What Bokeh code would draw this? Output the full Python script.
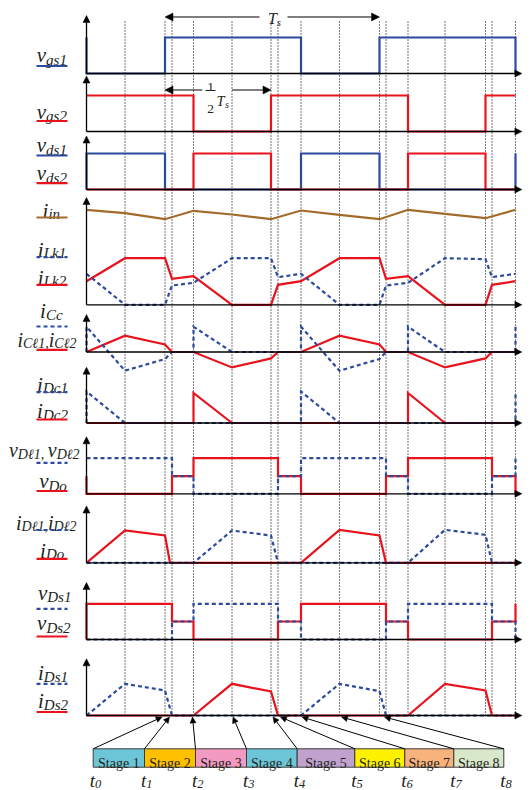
from bokeh.plotting import figure
from bokeh.models import Range1d, Arrow, NormalHead, ColumnDataSource
from bokeh.core.properties import value, field
from bokeh.embed import file_html
from bokeh.resources import INLINE

# ------------------------------------------------------------------ data
# switching instants (time axis units; one switching period Ts = 214.5)
t_marks = [38.5, 78.5, 85.5, 107, 145.5, 184.5, 191.5, 214.5,
           253, 293, 299.5, 321.5, 358.5, 399, 405.5, 429]
t_all = [0, 38.5, 78.5, 85.5, 107, 145.5, 184.5, 191.5, 214.5,
         253, 293, 299.5, 321.5, 358.5, 399, 405.5, 429]

vgs1_t = [0, 0, 78.5, 78.5, 214.5, 214.5, 293, 293, 429, 429]
vgs1_v = [36, 0, 0, 36, 36, 0, 0, 36, 36, 0]
vgs2_t = [0, 107, 107, 184.5, 184.5, 321.5, 321.5, 399, 399, 429]
vgs2_v = [36, 36, 0, 0, 36, 36, 0, 0, 36, 36]
vds1_t = [0, 0, 78.5, 78.5, 214.5, 214.5, 293, 293, 429, 429]
vds1_v = [0, 36, 36, 0, 0, 36, 36, 0, 0, 36]
vds2_t = [0, 107, 107, 184.5, 184.5, 321.5, 321.5, 399, 399, 429]
vds2_v = [0, 0, 36, 36, 0, 0, 36, 36, 0, 0]

iin_t = [0, 38.5, 78.5, 107, 145.5, 184.5, 214.5, 253, 293, 321.5, 358.5, 399, 429]
iin_v = [95, 91.6, 85.6, 94, 90.3, 85.6, 94.3, 90, 85.6, 95, 91, 86.6, 95]
iLk1_v = [31, 0, 0, 19.3, 22, 46.6, 46.6, 27.6, 31, 0, 0, 19.3, 22, 46.6, 45.6, 27.6, 31]
iLk2_v = [23.6, 46.6, 46.6, 26, 28.6, 0, 0, 20, 23.6, 46.6, 46.6, 26, 28.6, 0, 0, 20, 23.6]

iCl_v = [0, 16.3, 7.6, 0, 0, -15.4, -6.4, 0, 0, 16.3, 7.6, 0, 0, -15.4, -6.4, 0, 0]
iCc_t = [0, 0, 38.5, 78.5, 85.5, 107, 107, 145.5, 214.5, 214.5, 253, 293, 299.5,
         321.5, 321.5, 358.5, 429, 429]
iCc_v = [0, 25.3, -18.7, -7, 0, 0, 25.3, 0, 0, 25.3, -18.7, -7, 0, 0, 25.3, 0, 0, 25.3]

iDc1_t = [0, 0, 38.5, 214.5, 214.5, 253, 429, 429]
iDc1_v = [0, 31.5, 0, 0, 31.5, 0, 0, 31.5]
iDc2_t = [0, 107, 107, 145.5, 321.5, 321.5, 358.5, 429]
iDc2_v = [0, 0, 30, 0, 0, 30, 0, 0]

step_t = [0, 0, 85.5, 85.5, 107, 107, 191.5, 191.5, 214.5, 214.5, 299.5, 299.5,
          321.5, 321.5, 405.5, 405.5, 429, 429]
vDl_v = [35.6, 35.6, 35.6, 17.6, 17.6, 0, 0, 17.6, 17.6, 35.6, 35.6, 17.6,
         17.6, 0, 0, 17.6, 17.6, 35.6]
vDo_v = [17.6, 0, 0, 17.6, 17.6, 35.6, 35.6, 17.6, 17.6, 0, 0, 17.6,
         17.6, 35.6, 35.6, 17.6, 17.6, 0]

iDo_t = [0, 38.5, 78.5, 83.5, 214.5, 253, 293, 299.5, 429]
iDo_v = [0, 32.3, 27.3, 0, 0, 33, 27.3, 0, 0]
iDl_t = [0, 107, 145.5, 184.5, 191.5, 321.5, 358.5, 399, 405.5, 429]
iDl_v = [0, 0, 32.3, 27.3, 0, 0, 33, 28, 0, 0]

vDs1_v = [0, 0, 0, 18, 18, 35.7, 35.7, 18, 18, 0, 0, 18, 18, 35.7, 35.7, 18, 18, 0]
vDs2_v = [0, 35.7, 35.7, 18, 18, 0, 0, 18, 18, 35.7, 35.7, 18, 18, 0, 0, 18, 18, 35.7]

iDs1_t = [0, 38.5, 78.5, 85.5, 214.5, 253, 293, 299.5, 429]
iDs1_v = [0, 31.7, 25, 0, 0, 31.7, 24.3, 0, 0]
iDs2_t = [0, 107, 145.5, 184.5, 191.5, 321.5, 358.5, 399, 405.5, 429]
iDs2_v = [0, 0, 31.7, 24, 0, 0, 31.7, 25, 0, 0]

stage_names = ["Stage 1", "Stage 2", "Stage 3", "Stage 4",
               "Stage 5", "Stage 6", "Stage 7", "Stage 8"]
stage_colors = ["#6cc6d7", "#ffc000", "#f29ac1", "#6cc6d7",
                "#c1a2cf", "#fff200", "#f8b27c", "#d9e8cb"]
t_labels = ["0", "1", "2", "3", "4", "5", "6", "7", "8"]
stage_targets = [75.5, 83, 106, 146.5, 186.5, 194, 215.5, 255, 298]

# ------------------------------------------------------------------ style / layout
BLUE = "#2d4a9c"
RED = "#e8131d"
BROWN = "#a26b2c"
INK = "#231f20"
FONT = "Liberation Serif"
X0 = 86.0                     # page x of t0
LBL_SHIFT = -2.5


def px(page_x):
    return page_x - X0


BASE = [73, 131, 189, 304.3, 351.5, 422.5, 493.3, 562.3, 639, 715]
TOP = [15, 75.5, 135.5, 197, 314, 366.7, 436.3, 505.5, 582, 658.3]

p = figure(width=531, height=790, x_range=Range1d(-86, 445), y_range=Range1d(790, 0),
           output_backend="svg", toolbar_location=None, min_border=0,
           x_axis_location=None, y_axis_location=None)
p.grid.visible = False
p.outline_line_color = None

# dotted instants
p.segment(x0=t_marks, y0=[21] * len(t_marks), x1=t_marks, y1=[715] * len(t_marks),
          line_color="black", line_width=1.1, line_dash="1 2")

# axes
ax_src = ColumnDataSource(dict(x0=[0] * 10, y0=BASE, x1=[435.4] * 10, y1=BASE))
p.add_layout(Arrow(end=NormalHead(size=7, fill_color="black", line_color="black", line_width=0.5),
                   source=ax_src, x_start="x0", y_start="y0", x_end="x1", y_end="y1",
                   line_color="black", line_width=1.3))
ay_src = ColumnDataSource(dict(x0=[0] * 10, y0=BASE, x1=[0] * 10, y1=TOP))
p.add_layout(Arrow(end=NormalHead(size=7, fill_color="black", line_color="black", line_width=0.5),
                   source=ay_src, x_start="x0", y_start="y0", x_end="x1", y_end="y1",
                   line_color="black", line_width=1.3))


def wave(k, t, v, color, dashed=False, width=2.2):
    y = [BASE[k] - a for a in v]
    p.line(t, y, line_color=color, line_width=width,
           line_dash="4 3" if dashed else "solid", line_join="miter")


wave(0, vgs1_t, vgs1_v, BLUE)
wave(1, vgs2_t, vgs2_v, RED)
wave(2, vds1_t, vds1_v, BLUE)
wave(2, vds2_t, vds2_v, RED)
wave(3, iin_t, iin_v, BROWN)
wave(3, t_all, iLk2_v, RED)
wave(3, t_all, iLk1_v, BLUE, True)
wave(4, t_all, iCl_v, RED)
wave(4, iCc_t, iCc_v, BLUE, True)
wave(5, iDc2_t, iDc2_v, RED)
wave(5, iDc1_t, iDc1_v, BLUE, True)
wave(6, step_t, vDo_v, RED)
wave(6, step_t, vDl_v, BLUE, True)
wave(7, iDo_t, iDo_v, RED)
wave(7, iDl_t, iDl_v, BLUE, True)
wave(8, step_t, vDs2_v, RED)
wave(8, step_t, vDs1_v, BLUE, True)
wave(9, iDs2_t, iDs2_v, RED)
wave(9, iDs1_t, iDs1_v, BLUE, True)

# ------------------------------------------------------------------ texts
WID = {'v': 0.444, 'i': 0.278, 't': 0.278, 'T': 0.556, 'g': 0.5, 's': 0.389, 'd': 0.5,
       'n': 0.5, 'L': 0.556, 'k': 0.444, 'C': 0.667, 'c': 0.444, 'D': 0.722, 'o': 0.5,
       'ℓ': 0.42, ',': 0.25, ' ': 0.25}


def wid(s, fs):
    return sum(WID.get(c, 0.5) for c in s) * fs


ital = dict(x=[], y=[], text=[], fs=[])


def put(x, y, s, fs, store=ital):
    store['x'].append(px(x))
    store['y'].append(y)
    store['text'].append(s)
    store['fs'].append(f"{fs}px")


def rich(cx, yb, parts, drop, main=21, sub=15):
    sizes = {'m': main, 's': sub}
    total = sum(wid(t, sizes[r]) for t, r in parts)
    x = cx - total / 2
    for t, r in parts:
        put(x, yb + LBL_SHIFT + (drop if r == 's' else 0), t, sizes[r])
        x += wid(t, sizes[r])


def simple(cx, yb, a, b, drop):
    rich(cx, yb, [(a, 'm'), (b, 's')], drop)


simple(51.3, 57.3, "v", "gs1", 5)
simple(51.3, 113.5, "v", "gs2", 4.5)
simple(51.3, 147, "v", "ds1", 4.5)
simple(51.3, 175, "v", "ds2", 4.5)
simple(50.8, 213.3, "i", "in", 3)
simple(51.5, 251.7, "i", "Lk1", 3)
simple(51.5, 280, "i", "Lk2", 3)
simple(50.8, 313.3, "i", "Cc", 3.5)
rich(46.5, 341.7, [("i", 'm'), ("Cℓ1,", 's'), ("i", 'm'), ("Cℓ2", 's')], 3.5, 20, 14)
simple(52, 386.7, "i", "Dc1", 3.5)
simple(52, 413.3, "i", "Dc2", 3.5)
rich(43.8, 451.7, [("v", 'm'), ("Dℓ1, ", 's'), ("v", 'm'), ("Dℓ2", 's')], 4.5, 20, 14)
simple(52.5, 483.3, "v", "Do", 5)
rich(45.8, 525, [("i", 'm'), ("Dℓ1,", 's'), ("i", 'm'), ("Dℓ2", 's')], 3.5, 20, 14)
simple(51.7, 553.3, "i", "Do", 3)
simple(54.2, 595, "v", "Ds1", 4)
simple(53.3, 625, "v", "Ds2", 5)
simple(52.5, 675, "i", "Ds1", 3.5)
simple(52.5, 703.3, "i", "Ds2", 3.5)

# period annotations
put(267.5, 18.3, "T", 16)
put(276.5, 21.5, "s", 10)
put(216, 100.5, "T", 14.5)
put(224.5, 103.5, "s", 10)

# time instants below stage boxes
box_x = [92.7, 144, 195, 246, 296.7, 354.3, 404.3, 453.3, 503.3]
for bx, lab in zip(box_x, t_labels):
    put(bx - 3.5, 780, "t", 19)
    put(bx + 1.8, 783.5, lab, 12.5)

p.text(x="x", y="y", text="text", source=ColumnDataSource(ital), text_font=value(FONT),
       text_font_style="italic", text_font_size=field("fs"), text_color=INK,
       text_baseline="alphabetic", text_align="left")

# underlines of the legend
ul_y = [65.5, 120.5, 155, 182.7, 217, 256.7, 284.3, 326, 349.3, 391.7, 419,
        462.3, 490.5, 529.5, 558.3, 608.3, 636, 683.3, 711.5]
ul_c = [BLUE, RED, BLUE, RED, BROWN, BLUE, RED, BLUE, RED, BLUE, RED,
        BLUE, RED, BLUE, RED, BLUE, RED, BLUE, RED]
ul_d = [0, 0, 0, 0, 0, 1, 0, 1, 0, 1, 0, 1, 0, 1, 0, 1, 0, 1, 0]
for y, c, d in zip(ul_y, ul_c, ul_d):
    p.line([px(36), px(67)], [y, y], line_color=c, line_width=2.2,
           line_dash="4 3" if d else "solid")

# 1/2 Ts fraction
up = dict(x=[], y=[], text=[], fs=[])
put(210, 86.5, "1", 13.5, up)
put(210, 108, "2", 13.5, up)
p.segment(x0=[px(205)], y0=[90], x1=[px(215)], y1=[90], line_color=INK, line_width=1)

# arrows for the period spans
sp = ColumnDataSource(dict(x0=[px(259), px(287), px(201.7), px(231.7)],
                           y0=[16.5, 16.5, 89.5, 89.5],
                           x1=[78.5, 293, 78.5, 184.5],
                           y1=[16.5, 16.5, 89.5, 89.5]))
p.add_layout(Arrow(end=NormalHead(size=8, fill_color="black", line_color="black", line_width=0.5),
                   source=sp, x_start="x0", y_start="y0", x_end="x1", y_end="y1",
                   line_color="black", line_width=1.2))

# stage boxes
p.quad(left=[px(a) for a in box_x[:-1]], right=[px(a) for a in box_x[1:]],
       top=[748.3] * 8, bottom=[766.7] * 8, fill_color=stage_colors,
       line_color="#3a3a3a", line_width=1)
st = dict(x=[], y=[], text=[], fs=[])
for a, b, name in zip(box_x[:-1], box_x[1:], stage_names):
    put((a + b) / 2, 762.5, name, 14, st)
p.text(x="x", y="y", text="text", source=ColumnDataSource(st), text_font=value(FONT),
       text_font_size=field("fs"), text_color=INK, text_baseline="alphabetic",
       text_align="center")
p.text(x="x", y="y", text="text", source=ColumnDataSource(up), text_font=value(FONT),
       text_font_size=field("fs"), text_color=INK, text_baseline="alphabetic",
       text_align="center")

# stage pointer arrows
sa = ColumnDataSource(dict(x0=[px(a) for a in box_x], y0=[748.3] * 9,
                           x1=stage_targets, y1=[716.5] * 9))
p.add_layout(Arrow(end=NormalHead(size=6, fill_color="black", line_color="black", line_width=0.5),
                   source=sa, x_start="x0", y_start="y0", x_end="x1", y_end="y1",
                   line_color="black", line_width=1))

open("out.html", "w").write(file_html(p, INLINE))
